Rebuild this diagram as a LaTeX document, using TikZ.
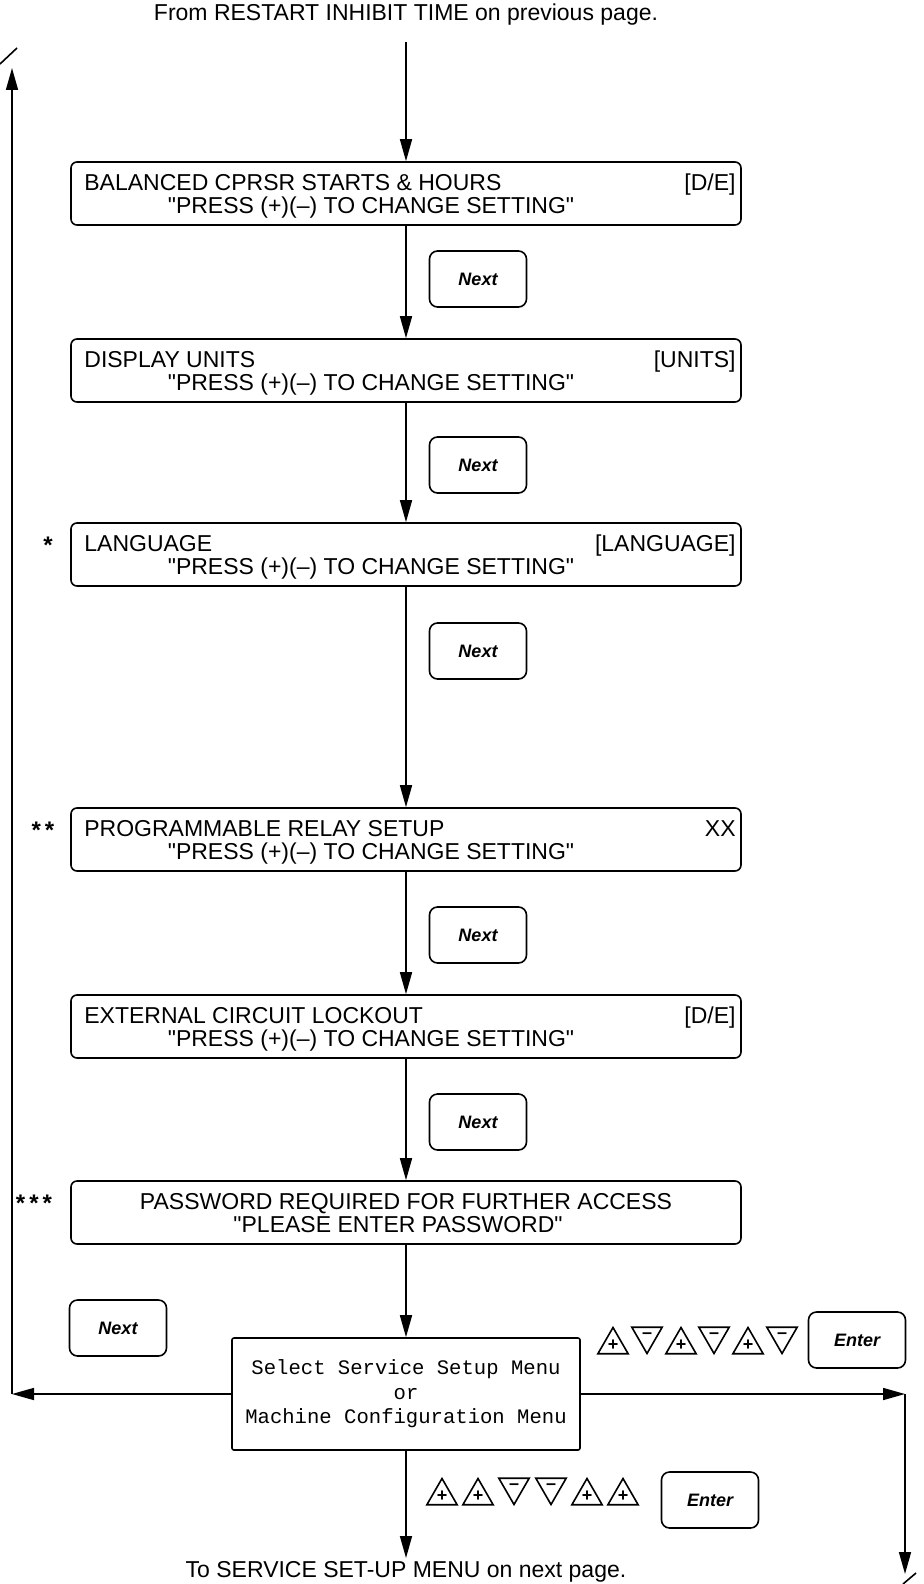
\documentclass[tikz,border=0pt]{standalone}
\usepackage{fontspec}
\setmainfont{Liberation Sans}
\newfontfamily\menufont{Liberation Mono}
\usetikzlibrary{arrows.meta,positioning,shapes.geometric}
\tikzset{
  panel/.style={draw=black, thick, rounded corners=3pt, minimum width=335pt, minimum height=31.5pt, inner sep=0pt},
  paneltxt/.style={inner sep=0pt, font=\fontsize{11.5}{13}\selectfont},
  starmark/.style={inner sep=0pt, font=\fontsize{12}{13}\selectfont\bfseries},
  keybtn/.style={draw=black, thick, rounded corners=4pt, minimum width=48.5pt, minimum height=28pt, inner sep=0pt, font=\fontsize{9}{10}\selectfont\bfseries\itshape},
  menubox/.style={draw=black, thick, rounded corners=1pt, minimum width=174pt, minimum height=56pt, inner sep=0pt, align=center, font=\menufont\fontsize{10.3}{12.2}\selectfont},
  upkey/.style={regular polygon, regular polygon sides=3, draw=black, thick, minimum size=17.5pt, inner sep=0pt, font=\fontsize{9}{9}\selectfont\bfseries},
  downkey/.style={upkey, shape border rotate=180},
  arrow/.style={-{Triangle[length=11pt, width=6pt]}, thick},
  pagenote/.style={inner sep=0pt, font=\fontsize{11.5}{13}\selectfont}
}
\newcommand{\pressline}{\textquotedbl PRESS (+)(--) TO CHANGE SETTING\textquotedbl}

\begin{document}
\begin{tikzpicture}[x=0.5pt, y=-0.5pt]
  \useasboundingbox (0,0) rectangle (923,1584);
  % entry from previous page
  \node[pagenote] (from) at (406,15) {From RESTART INHIBIT TIME on previous page.};
  \coordinate (start) at (406,42);

  % display panels
  \node[panel] (bal) at (406,193.5) {};
  \node[paneltxt, anchor=base west] (bal-a) at (84,190) {BALANCED CPRSR STARTS \& HOURS};
  \node[paneltxt, anchor=base east] (bal-b) at (736,190) {[D/E]};
  \node[paneltxt, anchor=base] (bal-c) at (371,213) {\pressline};

  \node[panel] (units) at (406,370.5) {};
  \node[paneltxt, anchor=base west] (units-a) at (84,367) {DISPLAY UNITS};
  \node[paneltxt, anchor=base east] (units-b) at (736,367) {[UNITS]};
  \node[paneltxt, anchor=base] (units-c) at (371,390) {\pressline};

  \node[panel] (lang) at (406,554.5) {};
  \node[paneltxt, anchor=base west] (lang-a) at (84,551) {LANGUAGE};
  \node[paneltxt, anchor=base east] (lang-b) at (736,551) {[LANGUAGE]};
  \node[paneltxt, anchor=base] (lang-c) at (371,574) {\pressline};
  \node[starmark, anchor=base] (lang-s) at (48,553) {*};

  \node[panel] (relay) at (406,839.5) {};
  \node[paneltxt, anchor=base west] (relay-a) at (84,836) {PROGRAMMABLE RELAY SETUP};
  \node[paneltxt, anchor=base east] (relay-b) at (736,836) {XX};
  \node[paneltxt, anchor=base] (relay-c) at (371,859) {\pressline};
  \node[starmark, anchor=base] (relay-s) at (43,838) {*\,*};

  \node[panel] (lock) at (406,1026.5) {};
  \node[paneltxt, anchor=base west] (lock-a) at (84,1023) {EXTERNAL CIRCUIT LOCKOUT};
  \node[paneltxt, anchor=base east] (lock-b) at (736,1023) {[D/E]};
  \node[paneltxt, anchor=base] (lock-c) at (371,1046) {\pressline};

  \node[panel] (pass) at (406,1212.5) {};
  \node[paneltxt, anchor=base] (pass-a) at (406,1209) {PASSWORD REQUIRED FOR FURTHER ACCESS};
  \node[paneltxt, anchor=base] (pass-c) at (398,1232) {\textquotedbl PLEASE ENTER PASSWORD\textquotedbl};
  \node[starmark, anchor=base] (pass-s) at (34,1211) {*\,*\,*};

  % next keys
  \node[keybtn] (next1) at (478,279) {Next};
  \node[keybtn] (next2) at (478,465) {Next};
  \node[keybtn] (next3) at (478,651) {Next};
  \node[keybtn] (next4) at (478,935) {Next};
  \node[keybtn] (next5) at (478,1122) {Next};
  \node[keybtn] (next6) at (118,1328) {Next};

  % menu selection
  \node[menubox] (menu) at (406,1394) {Select Service Setup Menu\\or\\Machine Configuration Menu};

  % key sequence to machine configuration
  \node[upkey] (r1) at (613,1345) {+};
  \node[downkey] (r2) at (647,1336) {--};
  \node[upkey] (r3) at (681,1345) {+};
  \node[downkey] (r4) at (714,1336) {--};
  \node[upkey] (r5) at (748,1345) {+};
  \node[downkey] (r6) at (782,1336) {--};
  \node[keybtn] (enter1) at (857,1340) {Enter};

  % key sequence to service setup
  \node[upkey] (b1) at (442,1496) {+};
  \node[upkey] (b2) at (478,1496) {+};
  \node[downkey] (b3) at (514,1487) {--};
  \node[downkey] (b4) at (551,1487) {--};
  \node[upkey] (b5) at (587,1496) {+};
  \node[upkey] (b6) at (623,1496) {+};
  \node[keybtn] (enter2) at (710,1500) {Enter};

  % main flow
  \draw[arrow] (start) -- (bal);
  \draw[arrow] (bal) -- (units);
  \draw[arrow] (units) -- (lang);
  \draw[arrow] (lang) -- (relay);
  \draw[arrow] (relay) -- (lock);
  \draw[arrow] (lock) -- (pass);
  \draw[arrow] (pass) -- (menu);
  \coordinate (down) at (406,1558);
  \draw[arrow] (menu) -- (down);
  \node[pagenote, anchor=base] (to) at (406,1577) {To SERVICE SET-UP MENU on next page.};

  % loop back on the left
  \coordinate (lbend) at (12,1394);
  \coordinate (ltop) at (12,68);
  \draw[arrow] (menu) -- (lbend);
  \draw[arrow] (lbend) -- (ltop);
  \draw[thick] (0,64) -- (17,48);

  % exit on the right
  \coordinate (rbend) at (905,1394);
  \coordinate (rend) at (905,1574);
  \draw[arrow] (menu) -- (rbend);
  \draw[arrow] (rbend) -- (rend);
  \draw[thick] (903,1584) -- (916,1573);
\end{tikzpicture}
\end{document}
